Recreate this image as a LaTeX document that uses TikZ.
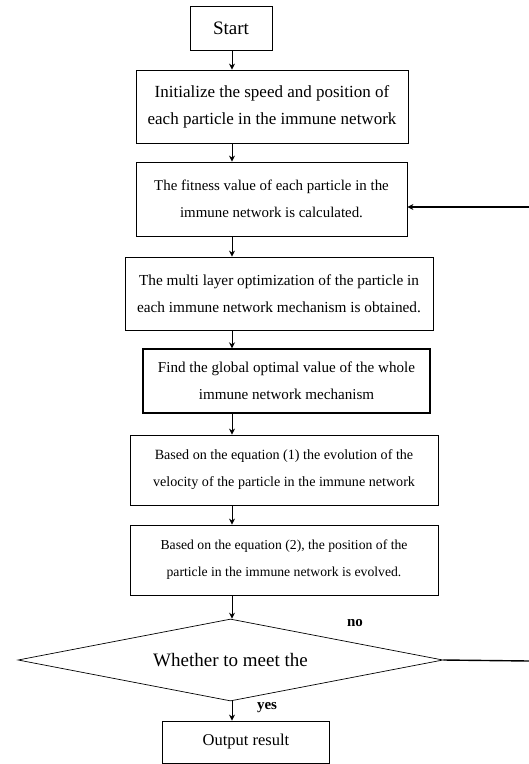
\documentclass[tikz,border=0pt]{standalone}
\usepackage{fontspec}
\setmainfont{Liberation Serif}
\usetikzlibrary{arrows.meta,shapes.geometric}

\newcommand{\boxfont}[1]{\fontsize{#1}{27}\selectfont}

\begin{document}
\begin{tikzpicture}[x=1pt,y=-1pt,
	stepbox/.style={draw,line width=0.8pt,align=center,inner sep=0pt},
	arr/.style={-{Stealth[length=6pt,width=6pt]},line width=1pt},
	lbl/.style={font=\fontsize{15}{15}\selectfont\bfseries}]

	\useasboundingbox (0,0) rectangle (529,764);

	% ---- coordinates

	\coordinate (axis) at (232,0);
	\coordinate (back) at (529,207);
	\coordinate (noend) at (529,661);

	% ---- boxes

	\node[stepbox,font=\boxfont{19},minimum width=82,minimum height=44] (start) at (231,28) {Start};
	\node[stepbox,font=\boxfont{17},minimum width=272,minimum height=73] (init) at (272,106.5)
		{Initialize the speed and position of\\each particle in the immune network};
	\node[stepbox,font=\boxfont{14.9},minimum width=271,minimum height=74] (fitness) at (271.5,199)
		{The fitness value of each particle in the\\immune network is calculated.};
	\node[stepbox,font=\boxfont{15.3},minimum width=308,minimum height=73] (layer) at (279,293.5)
		{The multi layer optimization of the particle in\\each immune network mechanism is obtained.};
	\node[stepbox,font=\boxfont{15.1},line width=1.4pt,minimum width=287,minimum height=64] (global) at (286.5,381)
		{Find the global optimal value of the whole\\immune network mechanism};
	\node[stepbox,font=\boxfont{14.1},minimum width=308,minimum height=70] (velocity) at (284,470)
		{Based on the equation (1) the evolution of the\\velocity of the particle in the immune network};
	\node[stepbox,font=\boxfont{13.7},minimum width=308,minimum height=70] (position) at (284,560)
		{Based on the equation (2), the position of the\\particle in the immune network is evolved.};
	\node[stepbox,font=\boxfont{19},shape=diamond,aspect=5.2,line width=0.7pt,
		minimum width=425,minimum height=82] (meet) at (230.5,660)
		{Whether to meet the};
	\node[stepbox,font=\boxfont{16.5},minimum width=167,minimum height=42] (output) at (246,742) {Output result};

	% ---- labels

	\node[lbl] (no) at (355,623) {no};
	\node[lbl] (yes) at (267,708) {yes};

	% ---- arrows

	\draw[arr] (start.south -| axis) -- (init.north -| axis);
	\draw[arr] (init.south -| axis) -- (fitness.north -| axis);
	\draw[arr] (fitness.south -| axis) -- (layer.north -| axis);
	\draw[arr] (layer.south -| axis) -- (global.north -| axis);
	\draw[arr] (global.south -| axis) -- (velocity.north -| axis);
	\draw[arr] (velocity.south -| axis) -- (position.north -| axis);
	\draw[arr] (position.south -| axis) -- (meet.north -| axis);
	\draw[arr] (meet.south -| axis) -- (output.north -| axis);

	% ---- feedback

	\draw[line width=1.4pt] (meet.east) -- (noend);
	\draw[arr,line width=1.4pt] (back) -- (back -| fitness.east);

\end{tikzpicture}
\end{document}
